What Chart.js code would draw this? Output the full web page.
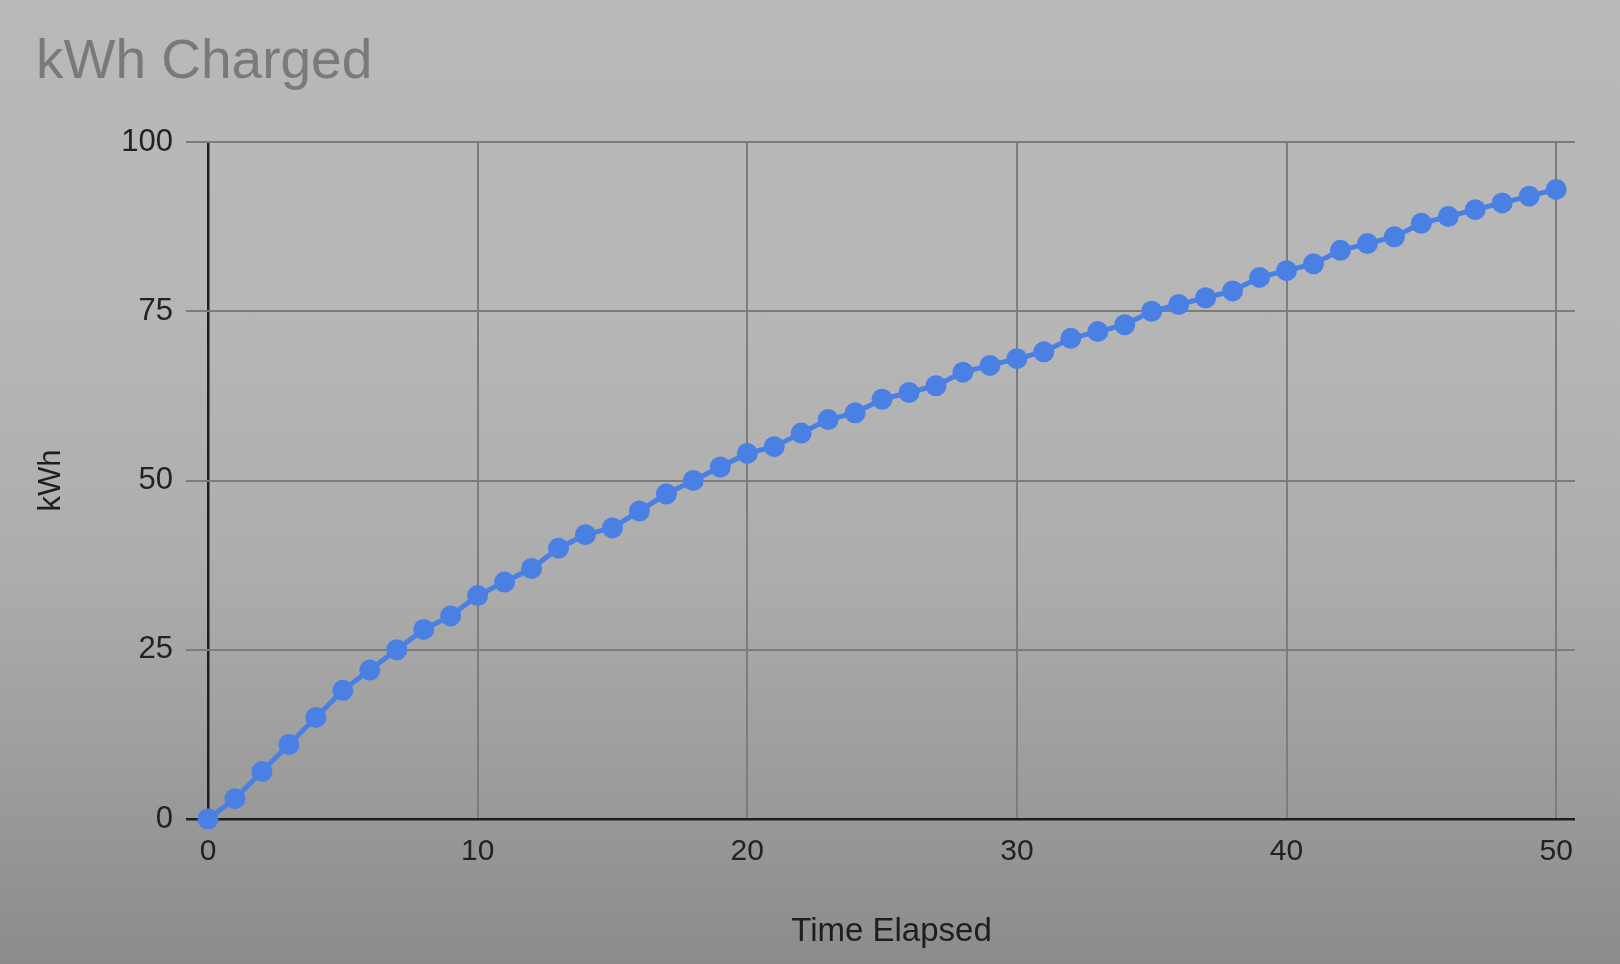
<!DOCTYPE html>
<html>
<head>
<meta charset="utf-8">
<script src="https://cdn.jsdelivr.net/npm/chart.js@4/dist/chart.umd.min.js"></script>
<style>
  html, body { margin:0; padding:0; }
  body {
    width:1620px; height:964px; overflow:hidden;
    background: linear-gradient(to bottom, #b9b9b9 0%, #b6b6b6 35%, #acacac 60%, #9b9b9b 82%, #8b8b8b 100%);
  }
  #wrap { position:absolute; left:0; top:0; width:1620px; height:964px; }
</style>
</head>
<body>
<div id="wrap"><canvas id="c" width="1620" height="964"></canvas></div>
<script>
const chartTitle = "kWh Charged";
const xAxisTitle = "Time Elapsed";
const yAxisTitle = "kWh";
const timeElapsed = [0,1,2,3,4,5,6,7,8,9,10,11,12,13,14,15,16,17,18,19,20,21,22,23,24,25,26,27,28,29,30,31,32,33,34,35,36,37,38,39,40,41,42,43,44,45,46,47,48,49,50];
const kwhCharged = [0,3,7,11,15,19,22,25,28,30,33,35,37,40,42,43,45.5,48,50,52,54,55,57,59,60,62,63,64,66,67,68,69,71,72,73,75,76,77,78,80,81,82,84,85,86,88,89,90,91,92,93];
const xTicks = [0,10,20,30,40,50];
const yTicks = [0,25,50,75,100];

const points = timeElapsed.map((t, i) => ({ x: t, y: kwhCharged[i] }));
const FONT = "'Liberation Sans', Arial, sans-serif";

new Chart(document.getElementById('c'), {
  type: 'line',
  data: {
    datasets: [{
      data: points,
      borderColor: '#4a80e3',
      backgroundColor: '#4a80e3',
      borderWidth: 5,
      pointRadius: 10.5,
      pointHoverRadius: 10.5,
      pointBorderWidth: 0,
      tension: 0,
      clip: 12
    }]
  },
  options: {
    responsive: false,
    animation: false,
    devicePixelRatio: 1,
    layout: { padding: { left: 36, right: 45, top: 0, bottom: 0 } },
    plugins: {
      legend: { display: false },
      tooltip: { enabled: false },
      title: {
        display: true,
        text: chartTitle,
        align: 'start',
        color: '#7a7a7a',
        font: { family: FONT, size: 55, weight: 'normal' },
        padding: { top: 30, bottom: 46 }
      }
    },
    scales: {
      x: {
        type: 'linear',
        min: 0,
        max: 50.7,
        afterBuildTicks: (s) => { s.ticks = xTicks.map(v => ({ value: v })); },
        afterFit: (s) => { s.height = 145; },
        grid: {
          color: (ctx) => ctx.tick && ctx.tick.value === 0 ? '#1e1e1e' : '#7c7c7c',
          lineWidth: (ctx) => ctx.tick && ctx.tick.value === 0 ? 2.5 : 2,
          drawTicks: false
        },
        border: { display: false },
        ticks: {
          color: '#222',
          font: { family: FONT, size: 30 },
          padding: 15,
          maxRotation: 0
        },
        title: {
          display: true,
          text: xAxisTitle,
          color: '#1e1e1e',
          font: { family: FONT, size: 33 },
          padding: { top: 0, bottom: 12 }
        }
      },
      y: {
        type: 'linear',
        min: 0,
        max: 100,
        afterBuildTicks: (s) => { s.ticks = yTicks.map(v => ({ value: v })); },
        afterFit: (s) => { s.width = 172; },
        grid: {
          color: (ctx) => ctx.tick && ctx.tick.value === 0 ? '#1e1e1e' : '#7c7c7c',
          lineWidth: (ctx) => ctx.tick && ctx.tick.value === 0 ? 2.5 : 2,
          drawTicks: true,
          tickLength: 22
        },
        border: { display: false },
        ticks: {
          color: '#222',
          font: { family: FONT, size: 31 },
          padding: 13
        },
        title: {
          display: true,
          text: yAxisTitle,
          color: '#1e1e1e',
          font: { family: FONT, size: 31, lineHeight: 0.9 },
          padding: { top: 2, bottom: 0 }
        }
      }
    }
  }
});
</script>
</body>
</html>
